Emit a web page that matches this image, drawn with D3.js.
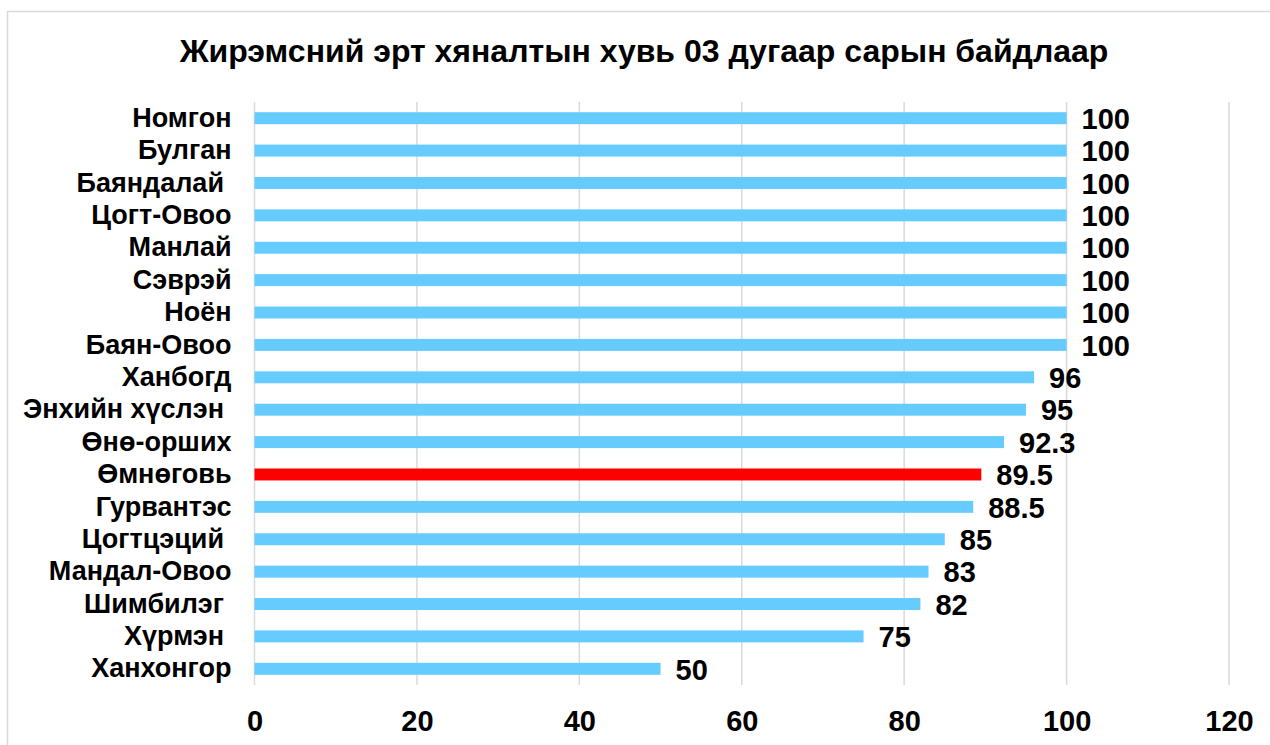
<!DOCTYPE html>
<html>
<head>
<meta charset="utf-8">
<script src="https://cdn.jsdelivr.net/npm/d3@7"></script>
<style>
  body { margin: 0; background: #fff; }
  svg text { font-family: "Liberation Sans", Arial, sans-serif; font-weight: bold; fill: #000; white-space: pre; }
</style>
</head>
<body>
<svg id="chart" width="1270" height="745"></svg>
<script>
// data, top to bottom
const soums = [
  'Номгон', 'Булган', 'Баяндалай ', 'Цогт-Овоо', 'Манлай', 'Сэврэй', 'Ноён', 'Баян-Овоо',
  'Ханбогд', 'Энхийн хүслэн ', 'Өнө-орших', 'Өмнөговь', 'Гурвантэс', 'Цогтцэций ',
  'Мандал-Овоо', 'Шимбилэг ', 'Хүрмэн ', 'Ханхонгор'
];
const coverage = [100, 100, 100, 100, 100, 100, 100, 100, 96, 95, 92.3, 89.5, 88.5, 85, 83, 82, 75, 50];
const xTicks = [0, 20, 40, 60, 80, 100, 120];
const highlight = 'Өмнөговь';
const titleText = 'Жирэмсний эрт хяналтын хувь 03 дугаар сарын байдлаар';

const svg = d3.select('#chart');
const margin = { left: 254.5, right: 1229, top: 102, bottom: 685 };

// outer frame of the chart area
svg.append('rect')
  .attr('x', 7.5).attr('y', 11.5)
  .attr('width', 1300).attr('height', 800)
  .attr('fill', 'none').attr('stroke', '#d9d9d9').attr('stroke-width', 1.5);

svg.append('text')
  .attr('x', 644).attr('y', 62)
  .attr('text-anchor', 'middle')
  .attr('font-size', 32)
  .text(titleText);

const x = d3.scaleLinear().domain([0, 120]).range([margin.left, margin.right]);
const y = d3.scaleBand().domain(soums).range([margin.top, margin.bottom]).paddingInner(0.63).paddingOuter(0.315);

// vertical gridlines
svg.append('g')
  .selectAll('line')
  .data(xTicks)
  .join('line')
  .attr('x1', (d) => x(d)).attr('x2', (d) => x(d))
  .attr('y1', margin.top).attr('y2', margin.bottom)
  .attr('stroke', '#d9d9d9')
  .attr('stroke-width', 1.5);

// x axis labels
const xAxis = svg.append('g')
  .attr('transform', `translate(0,${margin.bottom})`)
  .call(d3.axisBottom(x).tickValues(xTicks).tickSize(0).tickPadding(25));
xAxis.select('.domain').remove();
xAxis.selectAll('text')
  .attr('font-size', 29)
  .attr('font-family', '"Liberation Sans", Arial, sans-serif')
  .attr('font-weight', 'bold')
  .attr('fill', '#000');

// category labels
const yAxis = svg.append('g')
  .attr('transform', `translate(${margin.left - 23},0)`)
  .call(d3.axisLeft(y).tickSize(0).tickPadding(0));
yAxis.select('.domain').remove();
yAxis.selectAll('text')
  .attr('font-size', 27)
  .attr('font-family', '"Liberation Sans", Arial, sans-serif')
  .attr('font-weight', 'bold')
  .attr('fill', '#000');

const rows = soums.map((s, i) => ({ s, v: coverage[i] }));

svg.append('g')
  .selectAll('rect')
  .data(rows)
  .join('rect')
  .attr('x', x(0))
  .attr('y', (d) => y(d.s))
  .attr('width', (d) => x(d.v) - x(0))
  .attr('height', y.bandwidth())
  .attr('fill', (d) => (d.s === highlight ? '#ff0000' : '#66ccff'));

svg.append('g')
  .selectAll('text')
  .data(rows)
  .join('text')
  .attr('x', (d) => x(d.v) + 15)
  .attr('y', (d) => y(d.s) + y.bandwidth() / 2)
  .attr('dy', '0.37em')
  .attr('font-size', 29)
  .text((d) => d.v);
</script>
</body>
</html>
